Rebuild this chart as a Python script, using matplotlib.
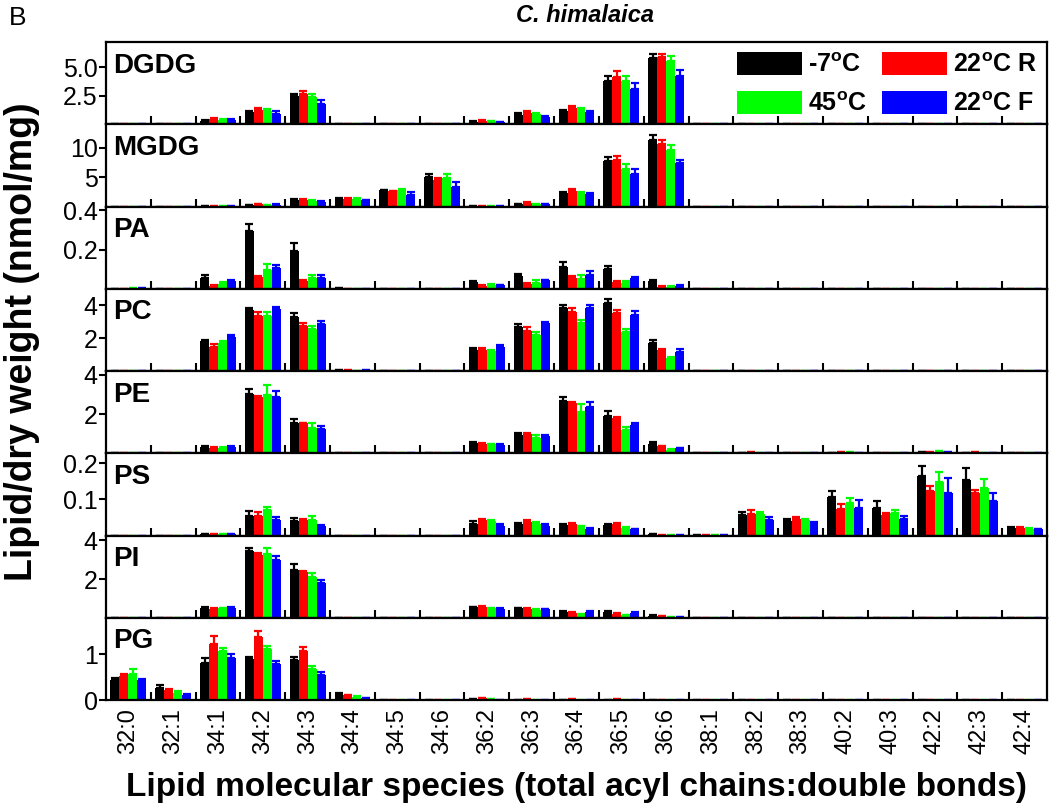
import matplotlib
matplotlib.use("Agg")
import matplotlib.pyplot as plt
import numpy as np

plt.rcParams['font.family'] = ['Liberation Sans', 'DejaVu Sans']
plt.rcParams['mathtext.fontset'] = 'custom'
plt.rcParams['mathtext.rm'] = 'Liberation Sans:bold'
plt.rcParams['mathtext.bf'] = 'Liberation Sans:bold'

categories = ["32:0", "32:1", "34:1", "34:2", "34:3", "34:4", "34:5", "34:6",
              "36:2", "36:3", "36:4", "36:5", "36:6", "38:1", "38:2", "38:3",
              "40:2", "40:3", "42:2", "42:3", "42:4"]
conditions = [r"-7$^{\mathbf{o}}$C", r"22$^{\mathbf{o}}$C R",
              r"45$^{\mathbf{o}}$C", r"22$^{\mathbf{o}}$C F"]
colors = ["#000000", "#ff0000", "#00ff00", "#0000ff"]
lipids = ["DGDG", "MGDG", "PA", "PC", "PE", "PS", "PI", "PG"]

# means: one list per condition (-7C, 22C R, 45C, 22C F)
dgdg = [[0, 0, 0.32, 1.09, 2.44, 0.05, 0.03, 0.02, 0.20, 0.77, 1.12, 3.76, 5.82, 0, 0, 0, 0, 0, 0, 0, 0],
        [0, 0, 0.47, 1.26, 2.68, 0.05, 0.03, 0.02, 0.32, 0.96, 1.41, 4.15, 5.88, 0, 0, 0, 0, 0, 0, 0, 0],
        [0, 0, 0.41, 1.20, 2.35, 0.04, 0.03, 0.02, 0.26, 0.90, 1.33, 3.76, 5.53, 0, 0, 0, 0, 0, 0, 0, 0],
        [0, 0, 0.38, 0.88, 1.80, 0.04, 0.02, 0.01, 0.20, 0.65, 1.06, 3.12, 4.26, 0, 0, 0, 0, 0, 0, 0, 0]]
dgdg_err = [[0, 0, 0.05, 0.10, 0.24, 0.01, 0, 0, 0.05, 0.20, 0.15, 0.44, 0.35, 0, 0, 0, 0, 0, 0, 0, 0],
            [0, 0, 0.06, 0.15, 0.20, 0.01, 0, 0, 0.05, 0.18, 0.15, 0.50, 0.30, 0, 0, 0, 0, 0, 0, 0, 0],
            [0, 0, 0.05, 0.12, 0.26, 0.01, 0, 0, 0.04, 0.10, 0.10, 0.44, 0.44, 0, 0, 0, 0, 0, 0, 0, 0],
            [0, 0, 0.05, 0.24, 0.35, 0.01, 0, 0, 0.03, 0.06, 0.12, 0.50, 0.53, 0, 0, 0, 0, 0, 0, 0, 0]]

mgdg = [[0, 0, 0.05, 0.28, 1.14, 1.36, 2.73, 4.94, 0.02, 0.40, 2.27, 7.8, 11.4, 0, 0, 0, 0, 0, 0, 0, 0],
        [0, 0, 0.05, 0.40, 1.19, 1.30, 2.61, 4.55, 0.05, 0.60, 2.67, 7.9, 10.6, 0, 0, 0, 0, 0, 0, 0, 0],
        [0, 0, 0.04, 0.28, 1.02, 1.36, 2.78, 4.77, 0.02, 0.37, 2.27, 6.4, 9.6, 0, 0, 0, 0, 0, 0, 0, 0],
        [0, 0, 0.05, 0.34, 0.85, 1.08, 1.99, 3.35, 0.02, 0.40, 2.10, 5.6, 7.4, 0, 0, 0, 0, 0, 0, 0, 0]]
mgdg_err = [[0, 0, 0.02, 0.05, 0.10, 0.10, 0.10, 0.57, 0, 0.05, 0.15, 0.70, 0.85, 0, 0, 0, 0, 0, 0, 0, 0],
            [0, 0, 0.02, 0.10, 0.10, 0.10, 0.10, 0.30, 0.01, 0.10, 0.28, 0.70, 0.70, 0, 0, 0, 0, 0, 0, 0, 0],
            [0, 0, 0.02, 0.05, 0.10, 0.10, 0.28, 0.74, 0, 0.05, 0.15, 0.80, 0.90, 0, 0, 0, 0, 0, 0, 0, 0],
            [0, 0, 0.02, 0.05, 0.10, 0.10, 0.40, 0.74, 0, 0.05, 0.25, 0.80, 0.57, 0, 0, 0, 0, 0, 0, 0, 0]]

pa = [[0, 0, 0.056, 0.293, 0.193, 0.003, 0, 0, 0.037, 0.064, 0.113, 0.100, 0.039, 0, 0, 0, 0, 0, 0, 0, 0],
      [0, 0, 0.016, 0.061, 0.039, 0, 0, 0, 0.014, 0.026, 0.057, 0.037, 0.010, 0, 0, 0, 0, 0, 0, 0, 0],
      [0.002, 0, 0.026, 0.096, 0.053, 0, 0, 0, 0.019, 0.030, 0.050, 0.030, 0.010, 0, 0, 0, 0, 0, 0, 0, 0],
      [0.002, 0, 0.042, 0.105, 0.053, 0, 0, 0, 0.018, 0.043, 0.071, 0.053, 0.016, 0, 0, 0, 0, 0, 0, 0, 0]]
pa_err = [[0, 0, 0.016, 0.040, 0.042, 0, 0, 0, 0.005, 0.009, 0.026, 0.016, 0.005, 0, 0, 0, 0, 0, 0, 0, 0],
          [0, 0, 0.003, 0.005, 0.004, 0, 0, 0, 0.003, 0.004, 0.006, 0.005, 0.002, 0, 0, 0, 0, 0, 0, 0, 0],
          [0, 0, 0.011, 0.030, 0.019, 0, 0, 0, 0.005, 0.014, 0.018, 0.009, 0.002, 0, 0, 0, 0, 0, 0, 0, 0],
          [0, 0, 0.005, 0.016, 0.016, 0, 0, 0, 0.003, 0.004, 0.018, 0.005, 0.003, 0, 0, 0, 0, 0, 0, 0, 0]]

pc = [[0, 0, 1.80, 3.72, 3.30, 0.05, 0, 0, 1.30, 2.70, 3.84, 4.14, 1.70, 0, 0.03, 0.03, 0, 0, 0, 0, 0],
      [0, 0, 1.46, 3.36, 2.76, 0.04, 0, 0, 1.26, 2.46, 3.60, 3.50, 1.26, 0, 0.02, 0.03, 0, 0, 0, 0, 0],
      [0, 0, 1.70, 3.36, 2.56, 0.03, 0, 0, 1.22, 2.20, 2.90, 2.36, 0.76, 0, 0.02, 0.03, 0, 0, 0, 0, 0],
      [0, 0, 2.06, 3.76, 2.84, 0.04, 0, 0, 1.46, 2.92, 3.82, 3.42, 1.18, 0, 0.02, 0.03, 0, 0, 0, 0, 0]]
pc_err = [[0, 0, 0.10, 0.14, 0.22, 0, 0, 0, 0.10, 0.16, 0.18, 0.22, 0.16, 0, 0, 0, 0, 0, 0, 0, 0],
          [0, 0, 0.20, 0.20, 0.16, 0, 0, 0, 0.12, 0.20, 0.26, 0.20, 0.10, 0, 0, 0, 0, 0, 0, 0, 0],
          [0, 0, 0.12, 0.20, 0.20, 0, 0, 0, 0.08, 0.16, 0.22, 0.20, 0.10, 0, 0, 0, 0, 0, 0, 0, 0],
          [0, 0, 0.10, 0.16, 0.18, 0, 0, 0, 0.10, 0.08, 0.18, 0.24, 0.14, 0, 0, 0, 0, 0, 0, 0, 0]]

pe = [[0, 0.02, 0.33, 3.00, 1.54, 0.02, 0, 0, 0.53, 0.95, 2.67, 1.91, 0.46, 0, 0.03, 0.03, 0.03, 0.02, 0.07, 0.03, 0],
      [0, 0.02, 0.28, 2.88, 1.53, 0.02, 0, 0, 0.49, 1.00, 2.56, 1.82, 0.35, 0, 0.04, 0.03, 0.04, 0.02, 0.08, 0.04, 0],
      [0, 0.01, 0.28, 2.96, 1.30, 0.01, 0, 0, 0.46, 0.77, 2.12, 1.18, 0.18, 0, 0.03, 0.02, 0.04, 0.02, 0.09, 0.03, 0],
      [0, 0.01, 0.33, 2.88, 1.26, 0.02, 0, 0, 0.44, 0.86, 2.35, 1.42, 0.25, 0, 0.03, 0.02, 0.03, 0.01, 0.06, 0.02, 0]]
pe_err = [[0, 0, 0.03, 0.26, 0.23, 0, 0, 0, 0.03, 0.10, 0.20, 0.23, 0.10, 0, 0, 0, 0, 0, 0, 0, 0],
          [0, 0, 0.02, 0.05, 0.03, 0, 0, 0, 0.03, 0.04, 0.05, 0.05, 0.03, 0, 0, 0, 0, 0, 0, 0, 0],
          [0, 0, 0.02, 0.50, 0.23, 0, 0, 0, 0.03, 0.14, 0.38, 0.18, 0.03, 0, 0, 0, 0, 0, 0, 0, 0],
          [0, 0, 0.02, 0.28, 0.12, 0, 0, 0, 0.03, 0.05, 0.26, 0.12, 0.03, 0, 0, 0, 0, 0, 0, 0, 0]]

ps = [[0, 0, 0.004, 0.055, 0.039, 0, 0, 0, 0.033, 0.031, 0.028, 0.029, 0.003, 0.002, 0.056, 0.040, 0.107, 0.077, 0.166, 0.155, 0.022],
      [0, 0, 0.005, 0.055, 0.042, 0, 0, 0, 0.042, 0.037, 0.031, 0.031, 0.002, 0.002, 0.059, 0.045, 0.073, 0.056, 0.124, 0.119, 0.021],
      [0, 0, 0.004, 0.071, 0.044, 0, 0, 0, 0.040, 0.031, 0.025, 0.022, 0.001, 0.001, 0.059, 0.043, 0.091, 0.063, 0.147, 0.133, 0.019],
      [0, 0, 0.004, 0.042, 0.027, 0, 0, 0, 0.027, 0.026, 0.019, 0.017, 0.001, 0.001, 0.043, 0.033, 0.077, 0.047, 0.119, 0.097, 0.017]]
ps_err = [[0, 0, 0, 0.013, 0.009, 0, 0, 0, 0.006, 0.004, 0.005, 0.003, 0, 0, 0.008, 0.006, 0.017, 0.018, 0.028, 0.031, 0.002],
          [0, 0, 0, 0.010, 0.003, 0, 0, 0, 0.005, 0.006, 0.003, 0.005, 0, 0, 0.011, 0.006, 0.014, 0.007, 0.013, 0.008, 0.002],
          [0, 0, 0, 0.008, 0.009, 0, 0, 0, 0.003, 0.006, 0.002, 0.002, 0, 0, 0.005, 0.003, 0.013, 0.008, 0.030, 0.024, 0.002],
          [0, 0, 0, 0.010, 0.003, 0, 0, 0, 0.006, 0.006, 0.003, 0.002, 0, 0, 0.009, 0.005, 0.021, 0.008, 0.041, 0.021, 0.002]]

pi = [[0, 0, 0.49, 3.43, 2.49, 0, 0, 0, 0.54, 0.49, 0.31, 0.31, 0.10, 0, 0, 0, 0, 0, 0, 0, 0],
      [0, 0, 0.47, 3.25, 2.38, 0, 0, 0, 0.57, 0.47, 0.27, 0.21, 0.07, 0, 0, 0, 0, 0, 0, 0, 0],
      [0, 0, 0.49, 3.27, 2.09, 0, 0, 0, 0.49, 0.42, 0.19, 0.14, 0.02, 0, 0, 0, 0, 0, 0, 0, 0],
      [0, 0, 0.49, 2.99, 1.79, 0, 0, 0, 0.47, 0.43, 0.32, 0.26, 0.05, 0, 0, 0, 0, 0, 0, 0, 0]]
pi_err = [[0, 0, 0.09, 0.19, 0.29, 0, 0, 0, 0.03, 0.03, 0.02, 0.02, 0.02, 0, 0, 0, 0, 0, 0, 0, 0],
          [0, 0, 0.02, 0.09, 0.05, 0, 0, 0, 0.04, 0.02, 0.02, 0.02, 0.01, 0, 0, 0, 0, 0, 0, 0, 0],
          [0, 0, 0.03, 0.35, 0.23, 0, 0, 0, 0.02, 0.02, 0.01, 0.01, 0.01, 0, 0, 0, 0, 0, 0, 0, 0],
          [0, 0, 0.09, 0.19, 0.16, 0, 0, 0, 0.02, 0.02, 0.02, 0.02, 0.01, 0, 0, 0, 0, 0, 0, 0, 0]]

pg = [[0.44, 0.26, 0.81, 0.90, 0.87, 0.11, 0, 0, 0.02, 0.01, 0.01, 0.01, 0, 0, 0, 0, 0, 0, 0, 0, 0],
      [0.52, 0.21, 1.22, 1.37, 1.07, 0.11, 0, 0, 0.04, 0.02, 0.03, 0.02, 0, 0, 0, 0, 0, 0, 0, 0, 0],
      [0.56, 0.16, 1.07, 1.11, 0.68, 0.07, 0, 0, 0.02, 0.01, 0.01, 0.01, 0, 0, 0, 0, 0, 0, 0, 0, 0],
      [0.44, 0.12, 0.92, 0.79, 0.54, 0.04, 0, 0, 0.01, 0.01, 0.01, 0.01, 0, 0, 0, 0, 0, 0, 0, 0, 0]]
pg_err = [[0.05, 0.07, 0.11, 0.05, 0.07, 0.04, 0, 0, 0, 0, 0, 0, 0, 0, 0, 0, 0, 0, 0, 0, 0],
          [0.05, 0.02, 0.19, 0.13, 0.10, 0.01, 0, 0, 0, 0, 0, 0, 0, 0, 0, 0, 0, 0, 0, 0, 0],
          [0.11, 0.03, 0.06, 0.07, 0.07, 0.01, 0, 0, 0, 0, 0, 0, 0, 0, 0, 0, 0, 0, 0, 0, 0],
          [0.01, 0.01, 0.08, 0.07, 0.07, 0.01, 0, 0, 0, 0, 0, 0, 0, 0, 0, 0, 0, 0, 0, 0, 0]]

panel_means = [dgdg, mgdg, pa, pc, pe, ps, pi, pg]
panel_errs = [dgdg_err, mgdg_err, pa_err, pc_err, pe_err, ps_err, pi_err, pg_err]
y_tops = [7.2, 14, 0.42, 5.0, 4.2, 0.228, 4.25, 1.8]
y_ticks = [[2.5, 5.0], [5, 10], [0.2, 0.4], [2, 4], [2, 4], [0.1, 0.2], [2, 4], [0, 1]]
y_ticklabels = [["2.5", "5.0"], ["5", "10"], ["0.2", "0.4"], ["2", "4"], ["2", "4"],
                ["0.1", "0.2"], ["2", "4"], ["0", "1"]]

fig = plt.figure(figsize=(10.5, 8.09), dpi=100)
left, right, top, bottom = 106 / 1050, 1047 / 1050, 1 - 42 / 809, 1 - 700 / 809
n = len(lipids)
h = (top - bottom) / n
x = np.arange(len(categories))
bw = 0.2
axes = []
for i, name in enumerate(lipids):
    ax = fig.add_axes([left, top - (i + 1) * h, right - left, h])
    axes.append(ax)
    means = panel_means[i]
    errs = panel_errs[i]
    for j in range(4):
        m = np.array(means[j])
        e = np.array(errs[j])
        ax.bar(x + (j - 1.5) * bw, m, width=bw, color=colors[j], label=conditions[j],
               yerr=[np.zeros_like(e), e],
               error_kw=dict(ecolor=colors[j], elinewidth=1.6, capsize=3.2, capthick=1.6),
               linewidth=0)
    ax.set_xlim(-0.5, len(categories) - 0.5)
    ax.set_ylim(0, y_tops[i])
    ax.set_yticks(y_ticks[i])
    ax.set_yticklabels(y_ticklabels[i], fontsize=18)
    ax.tick_params(axis='y', direction='out', length=5, width=1.5, pad=1)
    ax.set_xticks(x)
    ax.set_xticks(x[:-1] + 0.5, minor=True)
    ax.tick_params(axis='x', which='major', length=0)
    ax.tick_params(axis='x', which='minor', direction='in', length=6, width=1.5)
    if i < n - 1:
        ax.set_xticklabels([])
    else:
        ax.set_xticklabels(categories, rotation=90, fontsize=17)
        ax.tick_params(axis='x', which='major', pad=6)
    for sp in ax.spines.values():
        sp.set_linewidth(1.6)
    ax.text(0.008, 0.87, name, transform=ax.transAxes, fontsize=20, fontweight='bold',
            va='top', ha='left')

handles, labels = axes[0].get_legend_handles_labels()
order = [0, 2, 1, 3]
leg = axes[0].legend([handles[k] for k in order], [labels[k] for k in order],
                     ncol=2, loc='upper right', frameon=False, prop=dict(size=18, weight='bold'),
                     handlelength=2.6, handleheight=1.05, columnspacing=0.6, handletextpad=0.25,
                     labelspacing=0.55, borderaxespad=0.1, borderpad=0.3)

fig.text(0.557, 0.981, "C. himalaica", fontsize=17, fontweight='bold', style='italic',
         ha='center', va='center')
fig.text(0.017, 0.978, "B", fontsize=19, ha='center', va='center')
fig.text(0.021, 1 - 342 / 809, "Lipid/dry weight (nmol/mg)", rotation=90, fontsize=27,
         fontweight='bold', ha='center', va='center')
fig.text((left + right) / 2, 0.027, "Lipid molecular species (total acyl chains:double bonds)",
         fontsize=24, fontweight='bold', ha='center', va='center')

fig.savefig("out.png", dpi=100)
